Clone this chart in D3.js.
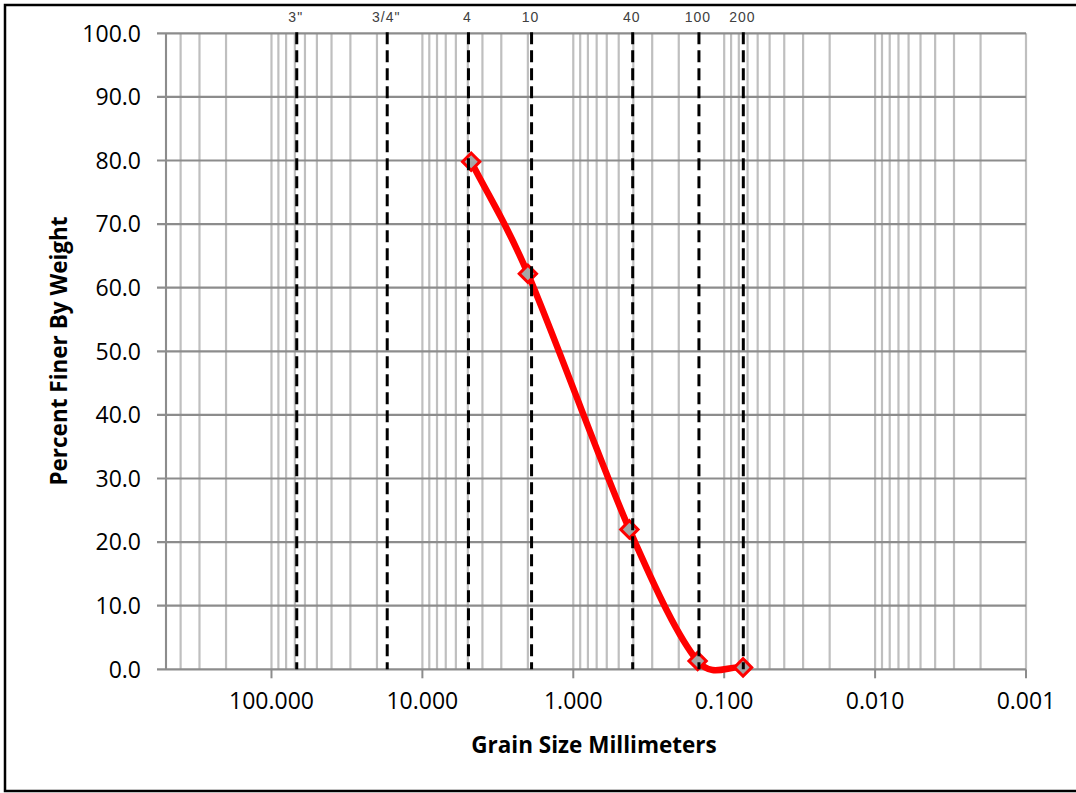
<!DOCTYPE html>
<meta charset="utf-8">
<style>
body { margin: 0; background: #fff; }
svg { display: block; }
.tick-label { font-family: 'Open Sans', sans-serif; font-size: 23px; fill: #000; }
.axis-title { font-family: 'Open Sans', sans-serif; font-size: 22.5px; font-weight: bold; fill: #000; }
.sieve-label { font-family: 'Liberation Sans', Arial, sans-serif; font-size: 14px; letter-spacing: 1px; fill: #404040; }
</style>
<body>
<div id="chart"></div>
<script src="https://d3js.org/d3.v7.min.js"></script>
<script>

// grain size (mm) and percent passing
var sizesMm = [4.75, 2.0, 0.425, 0.15, 0.075];
var percentFiner = [79.8, 62.2, 22.0, 1.3, 0.3];

// sieve marker lines drawn over the plot
var sieveLabels = ['3"', '3/4"', '4', '10', '40', '100', '200'];
var sieveLineMm = [68, 17.1, 4.95, 1.89, 0.404, 0.147, 0.0747];

var xTickValues = [100, 10, 1, 0.1, 0.01, 0.001];
var yTickValues = [0, 10, 20, 30, 40, 50, 60, 70, 80, 90, 100];

var W = 1076, H = 793;

var svg = d3.select("#chart").append("svg")
    .attr("width", W)
    .attr("height", H);

// outer frame (right side runs off the picture)
svg.append("rect")
    .attr("x", 5).attr("y", 5)
    .attr("width", 1074).attr("height", 786)
    .attr("fill", "none")
    .attr("stroke", "#000")
    .attr("stroke-width", 2.5);

var x = d3.scaleLog().domain([500, 0.001]).range([166, 1026]);
var y = d3.scaleLinear().domain([0, 100]).range([669.3, 33.3]);

// vertical (minor) grid
svg.append("g")
  .selectAll("line")
  .data(x.ticks())
  .enter().append("line")
    .attr("x1", function(d) { return x(d); })
    .attr("x2", function(d) { return x(d); })
    .attr("y1", y(100))
    .attr("y2", y(0))
    .attr("stroke", "#bfbfbf")
    .attr("stroke-width", 2.2);

// horizontal grid + y ticks
svg.append("g")
  .selectAll("line")
  .data(yTickValues)
  .enter().append("line")
    .attr("x1", 157)
    .attr("x2", x(0.001))
    .attr("y1", function(d) { return y(d); })
    .attr("y2", function(d) { return y(d); })
    .attr("stroke", "#8c8c8c")
    .attr("stroke-width", 2.2);

// y axis line
svg.append("line")
    .attr("x1", x(500)).attr("x2", x(500))
    .attr("y1", y(100)).attr("y2", y(0))
    .attr("stroke", "#8c8c8c")
    .attr("stroke-width", 2);

// x major ticks
svg.append("g")
  .selectAll("line")
  .data(xTickValues)
  .enter().append("line")
    .attr("x1", function(d) { return x(d); })
    .attr("x2", function(d) { return x(d); })
    .attr("y1", y(0))
    .attr("y2", y(0) + 9)
    .attr("stroke", "#8c8c8c")
    .attr("stroke-width", 2);

svg.append("g")
  .selectAll("text")
  .data(yTickValues)
  .enter().append("text")
    .attr("class", "tick-label")
    .attr("x", 141)
    .attr("y", function(d) { return y(d); })
    .attr("dy", "0.36em")
    .attr("text-anchor", "end")
    .text(function(d) { return d3.format(".1f")(d); });

svg.append("g")
  .selectAll("text")
  .data(xTickValues)
  .enter().append("text")
    .attr("class", "tick-label")
    .attr("x", function(d) { return x(d); })
    .attr("y", 709)
    .attr("text-anchor", "middle")
    .text(function(d) { return d3.format(".3f")(d); });

svg.append("text")
    .attr("class", "axis-title")
    .attr("x", 594)
    .attr("y", 753)
    .attr("text-anchor", "middle")
    .text("Grain Size Millimeters");

svg.append("text")
    .attr("class", "axis-title")
    .attr("transform", "translate(67,351) rotate(-90)")
    .attr("text-anchor", "middle")
    .text("Percent Finer By Weight");

// gradation curve, spreadsheet-style smoothing (bezier with clamped handles)
var pts = sizesMm.map(function(d, i) { return [x(d), y(percentFiner[i])]; });

function dist(a, b) { return Math.hypot(b[0] - a[0], b[1] - a[1]); }

function smoothPath(p) {
  var path = d3.path();
  path.moveTo(p[0][0], p[0][1]);
  for (var i = 0; i < p.length - 1; i++) {
    var p1 = p[i], p2 = p[i + 1];
    var p0 = i > 0 ? p[i - 1] : p1;
    var p3 = i < p.length - 2 ? p[i + 2] : p2;
    var d12 = dist(p1, p2), d02 = dist(p0, p2), d13 = dist(p1, p3);
    var f0 = (p0 === p1) ? 1 / 3 : 1 / 6;
    var f1 = (p3 === p2) ? 1 / 3 : 1 / 6;
    if (d02 * f0 >= d12 / 2) f0 = d12 / 2 / d02;
    if (d13 * f1 >= d12 / 2) f1 = d12 / 2 / d13;
    path.bezierCurveTo(
      p1[0] + (p2[0] - p0[0]) * f0, p1[1] + (p2[1] - p0[1]) * f0,
      p2[0] - (p3[0] - p1[0]) * f1, p2[1] - (p3[1] - p1[1]) * f1,
      p2[0], p2[1]);
  }
  return path.toString();
}

svg.append("path")
    .attr("d", smoothPath(pts))
    .attr("fill", "none")
    .attr("stroke", "#ff0000")
    .attr("stroke-width", 6.5)
    .attr("stroke-linejoin", "round");

svg.append("g")
  .selectAll("path")
  .data(pts)
  .enter().append("path")
    .attr("d", d3.symbol().type(d3.symbolSquare).size(150))
    .attr("transform", function(d) { return "translate(" + d[0] + "," + d[1] + ") rotate(45)"; })
    .attr("fill", "#a6a6a6")
    .attr("stroke", "#ff0000")
    .attr("stroke-width", 3);

// sieve lines
svg.append("g")
  .selectAll("line")
  .data(sieveLineMm)
  .enter().append("line")
    .attr("x1", function(d) { return x(d); })
    .attr("x2", function(d) { return x(d); })
    .attr("y1", y(100) - 1)
    .attr("y2", y(0))
    .attr("stroke", "#000")
    .attr("stroke-width", 3)
    .attr("stroke-dasharray", "12,6");

svg.append("g")
  .selectAll("text")
  .data(sieveLineMm)
  .enter().append("text")
    .attr("class", "sieve-label")
    .attr("x", function(d) { return x(d) - 1; })
    .attr("y", 22)
    .attr("text-anchor", "middle")
    .text(function(d, i) { return sieveLabels[i]; });

</script>
</body>
